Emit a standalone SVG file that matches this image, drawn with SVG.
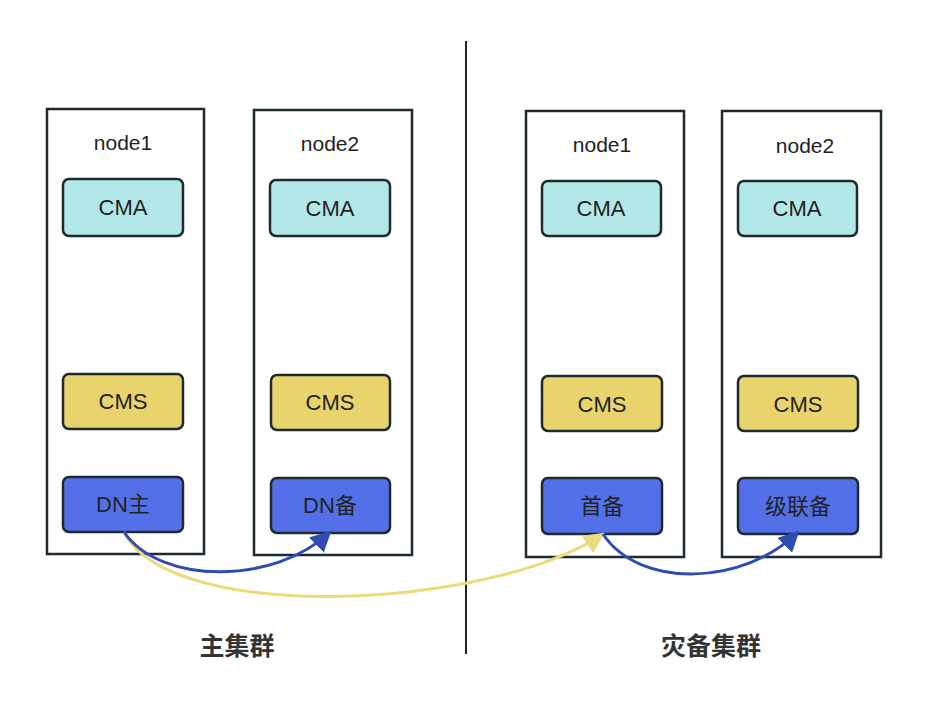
<svg xmlns="http://www.w3.org/2000/svg" width="929" height="720" viewBox="0 0 929 720">
<style>
.node{fill:#fff;stroke:#1f2a30;stroke-width:2.5}
.cma{fill:#b3e8e8;stroke:#1f2a30;stroke-width:2.5}
.cms{fill:#e8d36c;stroke:#1f2a30;stroke-width:2.5}
.dn{fill:#5470e8;stroke:#1f2a30;stroke-width:2.5}
.lbl{font-family:"Liberation Sans","Noto Sans CJK SC",sans-serif;font-size:21px;fill:#222;text-anchor:middle}
.box{font-family:"Liberation Sans","Noto Sans CJK SC",sans-serif;font-size:22px;fill:#222;text-anchor:middle}
.title{font-family:"Noto Sans CJK SC",sans-serif;font-size:25px;font-weight:bold;fill:#333;text-anchor:middle}
.blue{fill:none;stroke:#2f4cb3;stroke-width:3}
.yellow{fill:none;stroke:#ecdb7c;stroke-width:3}
</style>
<defs>
<marker id="ab" viewBox="0 0 10 10" refX="9" refY="5" markerWidth="7" markerHeight="7" orient="auto" markerUnits="strokeWidth"><path d="M0,0 L10,5 L0,10 z" fill="#2f4cb3"/></marker>
<marker id="ay" viewBox="0 0 10 10" refX="9" refY="5" markerWidth="7" markerHeight="7" orient="auto" markerUnits="strokeWidth"><path d="M0,0 L10,5 L0,10 z" fill="#ecdb7c"/></marker>
</defs>
<rect width="929" height="720" fill="#fff"/>
<line x1="466" y1="41" x2="466" y2="654" stroke="#222" stroke-width="2"/>
<g id="main-node1">
<rect class="node" x="47" y="109" width="157" height="445"/>
<text class="lbl" x="123" y="150">node1</text>
<rect class="cma" x="63" y="179" width="120" height="57" rx="6"/><text class="box" x="123" y="215">CMA</text>
<rect class="cms" x="63" y="374" width="120" height="55" rx="6"/><text class="box" x="123" y="409">CMS</text>
<rect class="dn" x="63" y="477" width="120" height="55" rx="6"/><text class="box" x="123" y="512">DN主</text>
</g>
<g id="main-node2">
<rect class="node" x="254" y="110" width="158" height="445"/>
<text class="lbl" x="330" y="151">node2</text>
<rect class="cma" x="270" y="180" width="120" height="56" rx="6"/><text class="box" x="330" y="216">CMA</text>
<rect class="cms" x="271" y="375" width="119" height="55" rx="6"/><text class="box" x="330" y="410">CMS</text>
<rect class="dn" x="271" y="478" width="119" height="55" rx="6"/><text class="box" x="330" y="513">DN备</text>
</g>
<g id="dr-node1">
<rect class="node" x="526" y="111" width="158" height="446"/>
<text class="lbl" x="602" y="152">node1</text>
<rect class="cma" x="542" y="181" width="119" height="55" rx="6"/><text class="box" x="601" y="216">CMA</text>
<rect class="cms" x="542" y="376" width="120" height="55" rx="6"/><text class="box" x="602" y="412">CMS</text>
<rect class="dn" x="542" y="478" width="120" height="56" rx="6"/><text class="box" x="602" y="514">首备</text>
</g>
<g id="dr-node2">
<rect class="node" x="722" y="111" width="159" height="446"/>
<text class="lbl" x="805" y="153">node2</text>
<rect class="cma" x="738" y="181" width="119" height="55" rx="6"/><text class="box" x="797" y="216">CMA</text>
<rect class="cms" x="738" y="376" width="120" height="55" rx="6"/><text class="box" x="798" y="412">CMS</text>
<rect class="dn" x="738" y="478" width="120" height="56" rx="6"/><text class="box" x="798" y="514">级联备</text>
</g>
<g id="connectors">
<path class="yellow" d="M124,532 C170,625 490,610 603,534" marker-end="url(#ay)"/>
<path class="blue" d="M124,532 C160,585 275,585 330,532" marker-end="url(#ab)"/>
<path class="blue" d="M603,534 C640,590 745,585 798,532" marker-end="url(#ab)"/>
</g>
<text class="title" x="237" y="655">主集群</text>
<text class="title" x="711" y="655">灾备集群</text>
</svg>
